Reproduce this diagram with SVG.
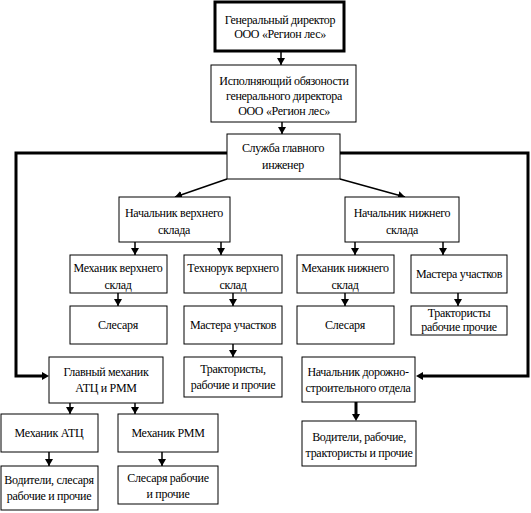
<svg xmlns="http://www.w3.org/2000/svg" width="531" height="513" viewBox="0 0 531 513">
<defs>
<marker id="ah" markerUnits="userSpaceOnUse" markerWidth="8" markerHeight="8" refX="7" refY="4" orient="auto">
<path d="M0,0 L7,4 L0,8 Z" fill="#000"/>
</marker>
<style>
rect{fill:#fff;stroke:#000;stroke-width:1}
text{font-family:'Liberation Serif','Times New Roman','DejaVu Serif',serif;font-size:12px;fill:#000;text-anchor:middle;dominant-baseline:central;letter-spacing:-0.3px}
.c{stroke:#000;stroke-width:1.5;fill:none}
.t{stroke:#000;stroke-width:3;fill:none}
</style>
</defs>
<rect width="531" height="513" fill="#fff" style="stroke:none"/>
<g id="connectors">
<line class="c" x1="281" y1="51" x2="281" y2="65" marker-end="url(#ah)"/>
<line class="c" x1="282" y1="122" x2="282" y2="134" marker-end="url(#ah)"/>
<path class="t" d="M227,153 H16 V376 H44"/>
<path d="M42,372 L49,376 L42,380 Z"/>
<path class="t" d="M340,153 H528 V376 H421"/>
<path d="M423,372 L416,376 L423,380 Z"/>
<line class="c" x1="227" y1="179" x2="175" y2="197" marker-end="url(#ah)"/>
<line class="c" x1="340" y1="179" x2="405" y2="197" marker-end="url(#ah)"/>
<line class="c" x1="135" y1="242" x2="135" y2="255" marker-end="url(#ah)"/>
<line class="c" x1="221" y1="242" x2="221" y2="255" marker-end="url(#ah)"/>
<line class="c" x1="355" y1="242" x2="355" y2="255" marker-end="url(#ah)"/>
<line class="c" x1="443" y1="242" x2="443" y2="255" marker-end="url(#ah)"/>
<line class="c" x1="118" y1="293" x2="118" y2="306" marker-end="url(#ah)"/>
<line class="c" x1="233" y1="293" x2="233" y2="306" marker-end="url(#ah)"/>
<line class="c" x1="345" y1="293" x2="345" y2="306" marker-end="url(#ah)"/>
<line class="c" x1="458" y1="293" x2="458" y2="306" marker-end="url(#ah)"/>
<line class="c" x1="233" y1="344" x2="233" y2="357" marker-end="url(#ah)"/>
<line class="t" x1="356" y1="402" x2="356" y2="415"/>
<path d="M352,414 L356,421 L360,414 Z"/>
<line class="c" x1="70" y1="403" x2="70" y2="414" marker-end="url(#ah)"/>
<line class="c" x1="135" y1="403" x2="135" y2="414" marker-end="url(#ah)"/>
<line class="c" x1="49" y1="452" x2="49" y2="466" marker-end="url(#ah)"/>
<line class="c" x1="162" y1="452" x2="162" y2="466" marker-end="url(#ah)"/>
</g>
<g id="n1"><rect x="215" y="2" width="129" height="49" style="stroke-width:3"/><text x="280" y="20">Генеральный директор</text><text x="280" y="34">ООО «Регион лес»</text></g>
<g id="n2"><rect x="211" y="65" width="145" height="57"/><text x="284" y="81">Исполняющий обязоности</text><text x="284" y="96">генерального директора</text><text x="284" y="111">ООО «Регион лес»</text></g>
<g id="n3"><rect x="227" y="134" width="113" height="45"/><text x="283" y="148">Служба главного</text><text x="283" y="165">инженер</text></g>
<g id="n4"><rect x="119" y="197" width="111" height="45"/><text x="174" y="213">Начальник верхнего</text><text x="174" y="230">склада</text></g>
<g id="n5"><rect x="345" y="197" width="114" height="45"/><text x="402" y="213">Начальник нижнего</text><text x="402" y="230">склада</text></g>
<g id="n6"><rect x="70" y="255" width="97" height="38"/><text x="118" y="268">Механик верхнего</text><text x="118" y="285">склад</text></g>
<g id="n7"><rect x="184" y="255" width="98" height="38"/><text x="233" y="268">Технорук верхнего</text><text x="233" y="285">склад</text></g>
<g id="n8"><rect x="297" y="255" width="97" height="38"/><text x="345" y="268">Механик нижнего</text><text x="345" y="285">склад</text></g>
<g id="n9"><rect x="411" y="255" width="96" height="38"/><text x="459" y="274">Мастера участков</text></g>
<g id="n10"><rect x="70" y="306" width="97" height="38"/><text x="118" y="325">Слесаря</text></g>
<g id="n11"><rect x="184" y="306" width="98" height="38"/><text x="233" y="325">Мастера участков</text></g>
<g id="n12"><rect x="297" y="306" width="97" height="38"/><text x="345" y="325">Слесаря</text></g>
<g id="n13"><rect x="411" y="306" width="96" height="29"/><text x="459" y="313">Трактористы</text><text x="459" y="327">рабочие прочие</text></g>
<g id="n14"><rect x="184" y="357" width="98" height="40"/><text x="233" y="369">Трактористы,</text><text x="233" y="385">рабочие и прочие</text></g>
<g id="n15"><rect x="49" y="357" width="114" height="46"/><text x="106" y="372">Главный механик</text><text x="106" y="388">АТЦ и РММ</text></g>
<g id="n16"><rect x="302" y="357" width="113" height="45"/><text x="358" y="372">Начальник дорожно-</text><text x="358" y="388">строительного отдела</text></g>
<g id="n17"><rect x="302" y="421" width="114" height="45"/><text x="359" y="437">Водители, рабочие,</text><text x="359" y="453">трактористы и прочие</text></g>
<g id="n18"><rect x="1" y="414" width="97" height="38"/><text x="49" y="433">Механик АТЦ</text></g>
<g id="n19"><rect x="118" y="414" width="100" height="38"/><text x="168" y="433">Механик РММ</text></g>
<g id="n20"><rect x="1" y="466" width="97" height="44"/><text x="49" y="480">Водители, слесаря</text><text x="49" y="496">рабочие и прочие</text></g>
<g id="n21"><rect x="118" y="466" width="100" height="38"/><text x="168" y="478">Слесаря рабочие</text><text x="168" y="494">и прочие</text></g>
</svg>
